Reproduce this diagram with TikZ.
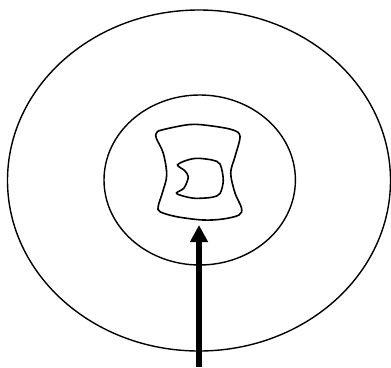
\documentclass[tikz,border=0pt]{standalone}
\usetikzlibrary{arrows.meta}
\begin{document}
\begin{tikzpicture}[x=1pt,y=-1pt,
  outline/.style={line width=1.4pt,black},
  blob/.style={line width=1.6pt,black,smooth cycle,tension=0.55}]
\useasboundingbox (0,0) rectangle (391,367);
\draw[outline] (199,180.5) ellipse[x radius=191.5,y radius=170.5];
\draw[outline] (199.7,180) ellipse[x radius=95.7,y radius=85];
\draw[blob] plot coordinates {(161.7,130) (190,124.5) (212,126) (233,130) (240,136.5) (235,156.7) (230.7,173) (235,193) (241.5,208) (239,215) (223,219) (203,220) (176.7,216.7) (160,211.7) (158.3,206) (162.7,191.7) (166.7,175) (163.3,153.3) (156.2,138) (156.5,133)};
\draw[blob,tension=0.5] plot coordinates {(177.5,165) (186,160.5) (197,158.3) (212,160) (220,164) (223.3,180) (220,193.5) (212,197.3) (195,198.3) (183,196) (176.5,193) (184,188) (188.3,177) (184.5,170.5)};
\coordinate (tail) at (199,367);
\coordinate (tip) at (199,225);
\draw[line width=5.6pt,-{Triangle[width=17pt,length=17pt]}] (tail) -- (tip);
\end{tikzpicture}
\end{document}
